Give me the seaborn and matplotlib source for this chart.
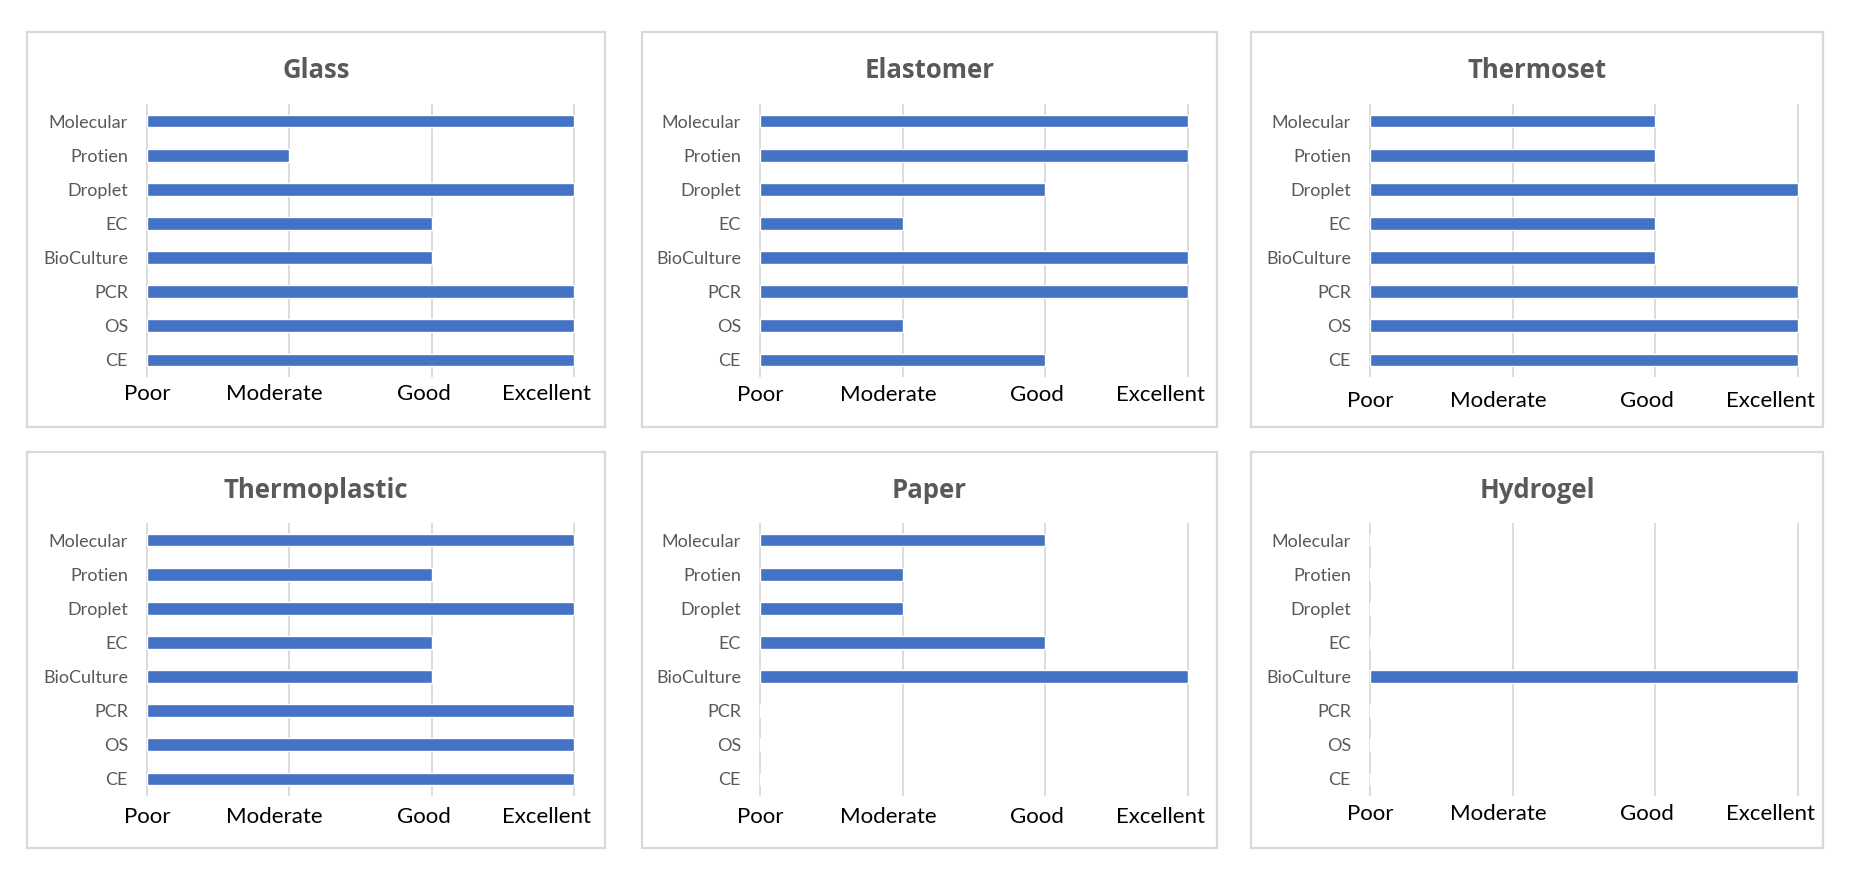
import matplotlib
matplotlib.use("Agg")
import matplotlib.pyplot as plt
import matplotlib.transforms as mtransforms
from matplotlib.patches import Rectangle
import seaborn as sns
import pandas as pd

# rating scale: 0 = Poor, 1 = Moderate, 2 = Good, 3 = Excellent
methods = ["Molecular", "Protien", "Droplet", "EC", "BioCulture", "PCR", "OS", "CE"]
rating_labels = ["Poor", "Moderate", "Good", "Excellent"]

glass = [3, 1, 3, 2, 2, 3, 3, 3]
elastomer = [3, 3, 2, 1, 3, 3, 1, 2]
thermoset = [2, 2, 3, 2, 2, 3, 3, 3]
thermoplastic = [3, 2, 3, 2, 2, 3, 3, 3]
paper = [2, 1, 1, 2, 3, 0, 0, 0]
hydrogel = [0, 0, 0, 0, 3, 0, 0, 0]

panels = [("Glass", glass), ("Elastomer", elastomer), ("Thermoset", thermoset),
          ("Thermoplastic", thermoplastic), ("Paper", paper), ("Hydrogel", hydrogel)]

sns.set_style("white")
plt.rcParams["font.family"] = ["Lato", "DejaVu Sans"]

W, H = 1857, 873
fig = plt.figure(figsize=(W / 100, H / 100), dpi=100)

def fbox(x0, y0, x1, y1):
    return [x0 / W, 1 - y1 / H, (x1 - x0) / W, (y1 - y0) / H]

# panel frames and plot areas, in pixels
frame_cols = [(27, 605), (642, 1217), (1251, 1823)]
frame_rows = [(32, 427), (452, 848)]
plot_cols = [(146, 575), (759, 1189), (1369, 1799)]
plot_rows = [(104, 377), (523, 796)]
title_y = [70, 491]

# the rating labels sit a little left of their gridlines, and lower in some panels
label_shift = [0.0, -0.105, -0.056, -0.19]
label_drop = [17, 18, 24, 21, 21, 18]

for i, (name, vals) in enumerate(panels):
    r, c = divmod(i, 3)
    fx0, fx1 = frame_cols[c]
    fy0, fy1 = frame_rows[r]
    fig.add_artist(Rectangle((fx0 / W, 1 - fy1 / H), (fx1 - fx0) / W, (fy1 - fy0) / H,
                             transform=fig.transFigure, fill=False,
                             edgecolor="#D9D9D9", linewidth=1.6))
    fig.text((fx0 + fx1) / 2 / W, 1 - title_y[r] / H, name, ha="center", va="center",
             fontsize=18.5, fontweight="bold", color="#595959",
             family=["Open Sans", "DejaVu Sans"])

    ax = fig.add_axes(fbox(plot_cols[c][0], plot_rows[r][0], plot_cols[c][1], plot_rows[r][1]))
    df = pd.DataFrame({"method": methods, "rating": vals})
    sns.barplot(data=df, x="rating", y="method", orient="h", ax=ax,
                color="#4472C4", saturation=1, width=0.37)
    ax.set_xlim(-0.01, 3.01)
    ax.set_ylim(7.5, -0.5)
    ax.set_xticks(range(4))
    ax.set_xticklabels([])
    off = mtransforms.ScaledTranslation(0, -label_drop[i] / 100, fig.dpi_scale_trans)
    for k, lab in enumerate(rating_labels):
        ax.text(k + label_shift[k], 0, lab, transform=ax.get_xaxis_transform() + off,
                ha="center", va="center", fontsize=16, color="black")
    ax.tick_params(axis="x", length=0)
    ax.tick_params(axis="y", length=0, pad=13, labelsize=13, labelcolor="#595959")
    ax.xaxis.grid(True, color="#D9D9D9", linewidth=1.3)
    ax.set_axisbelow(True)
    ax.set_xlabel("")
    ax.set_ylabel("")
    for s in ax.spines.values():
        s.set_visible(False)

fig.savefig("out.png", dpi=100, facecolor="white")
